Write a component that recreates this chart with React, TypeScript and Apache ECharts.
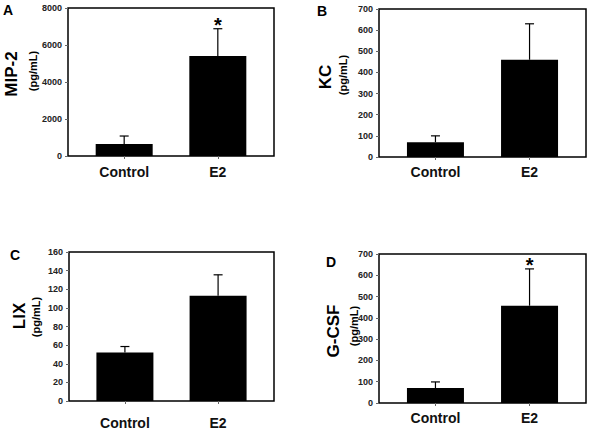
import React, { useEffect, useRef } from "react";
import * as echarts from "echarts";

const categories = ["Control", "E2"];
const panelLetters = ["A", "B", "C", "D"];
const panelTitles = ["MIP-2", "KC", "LIX", "G-CSF"];
const unitLabel = "(pg/mL)";

const mip2Mean = [650, 5400];
const mip2Sem = [430, 1480];
const mip2Sig = [0, 1];

const kcMean = [70, 460];
const kcSem = [30, 170];
const kcSig = [0, 0];

const lixMean = [52, 113];
const lixSem = [6.5, 22.5];
const lixSig = [0, 0];

const gcsfMean = [70, 457];
const gcsfSem = [29, 173];
const gcsfSig = [0, 1];

const yMax = [8000, 700, 160, 700];
const yStep = [2000, 100, 20, 100];

const FONT = "Liberation Sans, Arial, Helvetica, sans-serif";

const grids = [
  { left: 68, top: 8, width: 206, height: 148 },
  { left: 379, top: 9, width: 207, height: 148 },
  { left: 69, top: 252, width: 205, height: 149 },
  { left: 379, top: 254, width: 207, height: 149 },
];
const xLabelMargin = [9, 8, 15, 8];

// title positions [titleX, titleY, unitX, unitY, letterX, letterY]
const titlePos = [
  [11, 74, 33, 71, 8, 10],
  [325, 77, 343, 75, 322, 11],
  [19, 316, 36, 317, 15, 255],
  [333, 331, 354, 326, 331, 262],
];

export default function App() {
  const ref = useRef<HTMLDivElement>(null);
  useEffect(() => {
    if (!ref.current) return;
    const chart = echarts.init(ref.current, null, { renderer: "svg" });
    const means = [mip2Mean, kcMean, lixMean, gcsfMean];
    const sems = [mip2Sem, kcSem, lixSem, gcsfSem];
    const sigs = [mip2Sig, kcSig, lixSig, gcsfSig];

    const xAxis = grids.map((_, i) => ({
      type: "value",
      gridIndex: i,
      min: -0.6,
      max: 1.6,
      splitLine: { show: false },
      axisLine: { show: false, onZero: false },
      axisTick: {
        show: true,
        customValues: [0, 1],
        inside: false,
        length: 3,
        lineStyle: { color: "#666", width: 1 },
      },
      axisLabel: {
        customValues: [0, 1],
        formatter: (v: number) => categories[Math.round(v)] ?? "",
        fontFamily: FONT,
        fontWeight: "bold",
        fontSize: 14,
        color: "#111",
        margin: xLabelMargin[i],
      },
    }));

    const yAxis = grids.map((_, i) => ({
      type: "value",
      gridIndex: i,
      min: 0,
      max: yMax[i],
      interval: yStep[i],
      splitLine: { show: false },
      axisLine: { show: false, onZero: false },
      axisTick: {
        show: true,
        inside: false,
        length: 3,
        lineStyle: { color: "#666", width: 1 },
      },
      axisLabel: {
        formatter: (v: number) => String(v),
        fontFamily: FONT,
        fontWeight: "bold",
        fontSize: 9,
        color: "#222",
        margin: 6,
      },
    }));

    const series: any[] = [];
    grids.forEach((_, i) => {
      series.push({
        type: "bar",
        xAxisIndex: i,
        yAxisIndex: i,
        barWidth: 57,
        itemStyle: { color: "#000" },
        data: means[i].map((m, k) => [k, m]),
        z: 2,
      });
      series.push({
        type: "custom",
        xAxisIndex: i,
        yAxisIndex: i,
        clip: false,
        z: 3,
        data: means[i].map((m, k) => [k, m, sems[i][k], sigs[i][k]]),
        renderItem: (params: any, api: any) => {
          const x = api.value(0);
          const m = api.value(1);
          const s = api.value(2);
          const sig = api.value(3);
          const p0 = api.coord([x, m]);
          const p1 = api.coord([x, m + s]);
          const children: any[] = [
            {
              type: "line",
              shape: { x1: p0[0], y1: p0[1], x2: p1[0], y2: p1[1] },
              style: { stroke: "#000", lineWidth: 1.2 },
            },
            {
              type: "line",
              shape: { x1: p1[0] - 4.5, y1: p1[1], x2: p1[0] + 4.5, y2: p1[1] },
              style: { stroke: "#000", lineWidth: 1.2 },
            },
          ];
          if (sig) {
            children.push({
              type: "text",
              x: p1[0],
              y: p1[1] - 3.5,
              style: {
                text: "*",
                fontFamily: FONT,
                fontWeight: "bold",
                fontSize: 20,
                fill: "#000",
                align: "center",
                verticalAlign: "middle",
              },
            });
          }
          return { type: "group", children };
        },
      });
    });

    const graphic: any[] = [];
    titlePos.forEach((p, i) => {
      graphic.push({
        type: "text",
        x: p[0],
        y: p[1],
        rotation: Math.PI / 2,
        style: {
          text: panelTitles[i],
          fontFamily: FONT,
          fontWeight: "bold",
          fontSize: 17,
          fill: "#000",
          align: "center",
          verticalAlign: "middle",
        },
      });
      graphic.push({
        type: "text",
        x: p[2],
        y: p[3],
        rotation: Math.PI / 2,
        style: {
          text: unitLabel,
          fontFamily: FONT,
          fontWeight: "bold",
          fontSize: 11,
          fill: "#000",
          align: "center",
          verticalAlign: "middle",
        },
      });
      graphic.push({
        type: "text",
        x: p[4],
        y: p[5],
        style: {
          text: panelLetters[i],
          fontFamily: FONT,
          fontWeight: "bold",
          fontSize: 14,
          fill: "#000",
          align: "center",
          verticalAlign: "middle",
        },
      });
    });

    chart.setOption({
      animation: false,
      backgroundColor: "#fff",
      grid: grids.map((g) => ({
        ...g,
        show: true,
        borderColor: "#000",
        borderWidth: 1.5,
        backgroundColor: "transparent",
      })),
      xAxis,
      yAxis,
      series,
      graphic,
    });
    return () => chart.dispose();
  }, []);

  return (
    <div
      ref={ref}
      style={{ position: "fixed", left: 0, top: 0, width: 600, height: 435, background: "#fff" }}
    />
  );
}
